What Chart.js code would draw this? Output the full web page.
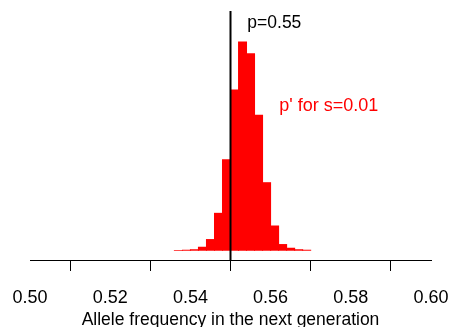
<!DOCTYPE html>
<html>
<head>
<meta charset="utf-8">
<script src="https://cdn.jsdelivr.net/npm/chart.js@4/dist/chart.umd.min.js"></script>
<style>
  html, body { margin: 0; padding: 0; background: #fff; }
  #wrap { width: 453px; height: 327px; }
</style>
</head>
<body>
<div id="wrap"><canvas id="grafico"></canvas></div>
<script>
// Histograma: centros das classes (largura 0.002) e contagens
const binCenters = [0.537, 0.539, 0.541, 0.543, 0.545, 0.547, 0.549, 0.551, 0.553,
                    0.555, 0.557, 0.559, 0.561, 0.563, 0.565, 0.567, 0.569];
const counts = [7, 10, 15, 40, 117, 380, 917, 1617, 2097, 1980, 1363, 687, 253, 67, 30, 15, 10];
const xTicks = [0.50, 0.52, 0.54, 0.56, 0.58, 0.60];
const pInicial = 0.55;
const rotuloP = 'p=0.55';
const rotuloS = "p' for s=0.01";
const tituloX = 'Allele frequency in the next generation';

const fonte = 'Liberation Sans, Arial, Helvetica, sans-serif';
const maxCount = Math.max(...counts);

// Linha vertical em p e textos anotados
const anotacoes = {
  id: 'anotacoes',
  afterDatasetsDraw(chart) {
    const { ctx, chartArea, scales } = chart;
    const x = scales.x.getPixelForValue(pInicial);
    ctx.save();
    ctx.strokeStyle = '#000';
    ctx.lineWidth = 2;
    ctx.beginPath();
    ctx.moveTo(x, chartArea.top);
    ctx.lineTo(x, chartArea.bottom);
    ctx.stroke();

    ctx.textBaseline = 'middle';
    ctx.font = '17.5px ' + fonte;
    ctx.fillStyle = '#000';
    ctx.textAlign = 'left';
    ctx.fillText(rotuloP, scales.x.getPixelForValue(0.5542), scales.y.getPixelForValue(maxCount * 1.09));
    ctx.font = '18px ' + fonte;
    ctx.fillStyle = '#ff0000';
    ctx.textAlign = 'center';
    ctx.fillText(rotuloS, scales.x.getPixelForValue(0.5745), scales.y.getPixelForValue(maxCount * 0.69));
    ctx.restore();
  }
};

new Chart(document.getElementById('grafico').getContext('2d'), {
  type: 'bar',
  data: {
    datasets: [{
      data: binCenters.map((c, i) => ({ x: c, y: counts[i] })),
      backgroundColor: '#ff0000',
      borderWidth: 0,
      barPercentage: 1.12,   // leve sobreposição p/ esconder frestas
      categoryPercentage: 1
    }]
  },
  options: {
    responsive: true,
    maintainAspectRatio: false,
    animation: false,
    events: [],
    layout: { padding: { left: 30, right: 22, top: 11, bottom: 0 } },
    plugins: { legend: { display: false }, tooltip: { enabled: false } },
    scales: {
      x: {
        type: 'linear',
        min: 0.50,
        max: 0.60,
        offset: false,
        afterBuildTicks: (scale) => { scale.ticks = xTicks.map(v => ({ value: v })); },
        afterFit: (scale) => {
          scale.height = 67;
          scale.paddingLeft = 0;
          scale.paddingRight = 0;
        },
        grid: {
          display: true,
          drawOnChartArea: false,
          drawTicks: true,
          tickLength: 11,
          color: '#000',
          lineWidth: 1
        },
        border: { display: true, color: '#000', width: 1 },
        ticks: {
          color: '#000',
          font: { family: fonte, size: 18 },
          padding: 16,
          maxRotation: 0,
          autoSkip: false,
          callback: (v) => Number(v).toFixed(2)
        },
        title: {
          display: true,
          text: tituloX,
          color: '#000',
          font: { family: fonte, size: 17.5, lineHeight: 1 },
          padding: { top: 0, bottom: -2 }
        }
      },
      y: {
        display: false,
        min: -maxCount * 0.0443,
        max: maxCount * 1.146
      }
    }
  },
  plugins: [anotacoes]
});
</script>
</body>
</html>
